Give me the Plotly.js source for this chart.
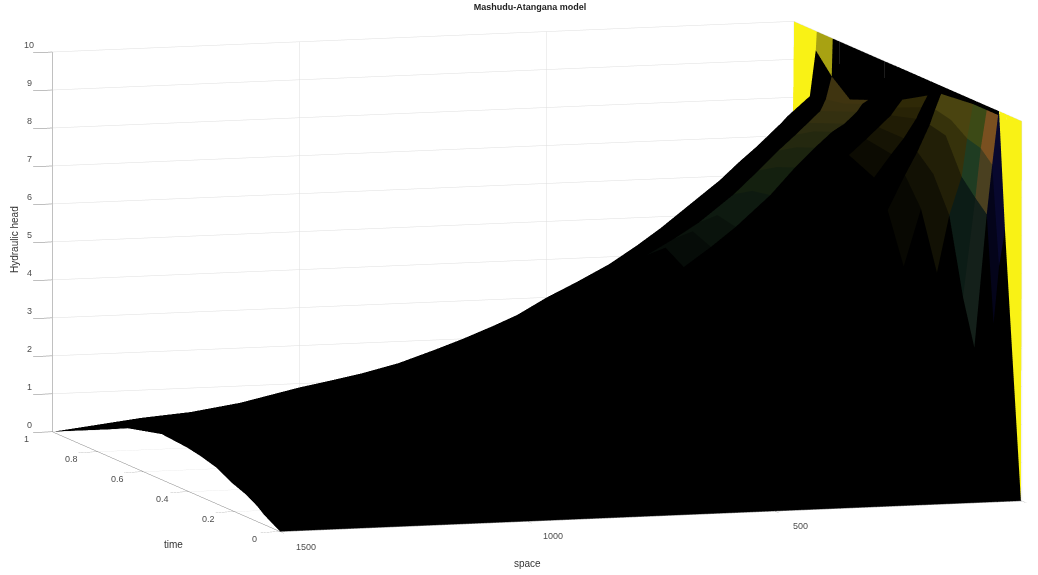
<!DOCTYPE html>
<html><head><meta charset="utf-8">
<script src="https://cdn.plot.ly/plotly-3.0.1.min.js"></script>
<style>html,body{margin:0;padding:0;background:#fff}#c{width:1038px;height:575px}</style></head>
<body><div id="c"></div>
<script>
var space=[0,2,14,25,50,75,110,150,200,270,320,375,440,500,560,610,670,725,800,875,940,1000,1120,1220,1320,1500];
var time=[0,.07,.1,.15,.21,.28,.35,.41,.52,.67,.75,.83,.9,1];
var head=[
[10,0,0,0,0,0,0,0,0,0,0,0,0,0,0,0,0,0,0,0,0,0,0,0,0,0],
[10,6.95,6.0,4.5,1.6,.9,.6,.5,.45,.4,.38,.35,.33,.32,.3,.3,.28,.27,.26,.26,.25,.25,.25,.25,.25,.25],
[10,9.9,8.6,7.3,3.8,2.0,1.2,1.0,.95,.9,.85,.8,.75,.7,.65,.6,.57,.55,.52,.5,.47,.45,.42,.4,.4,.4],
[10,9.9,8.9,7.6,5.0,3.2,2.0,1.6,1.45,1.3,1.25,1.2,1.15,1.1,1.05,1.0,.95,.9,.85,.8,.75,.7,.65,.6,.6,.58],
[10,9.9,9.0,8.0,7.0,5.5,4.0,2.8,2.2,2.0,1.85,1.7,1.6,1.5,1.45,1.4,1.35,1.3,1.22,1.15,1.07,1.0,.9,.8,.75,.72],
[10,9.85,9.3,8.9,7.9,7.0,5.5,4.2,3.5,3.0,2.7,2.4,2.2,2.0,1.9,1.8,1.7,1.6,1.5,1.4,1.35,1.3,1.2,1.1,1.0,.95],
[10,9.8,9.4,9.0,8.3,7.7,6.8,5.8,4.8,4.0,3.5,3.1,2.8,2.5,2.35,2.2,2.05,1.9,1.8,1.7,1.6,1.5,1.4,1.25,1.15,1.07],
[10,9.6,9.3,9.0,8.5,8.1,7.5,6.8,5.7,4.8,4.2,3.7,3.3,2.9,2.7,2.5,2.35,2.2,2.05,1.9,1.8,1.7,1.55,1.4,1.25,1.14],
[10,9.2,9.0,8.8,8.5,8.2,7.8,7.3,6.4,5.6,5.0,4.4,3.9,3.4,3.1,2.8,2.6,2.4,2.25,2.1,1.97,1.85,1.65,1.5,1.35,1.2],
[10,8.8,8.7,8.5,8.2,8.0,7.6,7.1,6.4,5.6,5.1,4.6,4.1,3.6,3.3,3.0,2.75,2.5,2.3,2.1,1.95,1.8,1.55,1.35,1.2,.96],
[10,8.6,8.5,8.3,8.0,7.8,7.4,6.9,6.3,5.7,5.3,4.9,4.3,3.8,3.4,3.0,2.7,2.4,2.15,1.9,1.7,1.5,1.2,1.0,.9,.72],
[10,9.0,8.4,8.1,7.8,7.5,7.1,6.6,6.0,5.3,4.9,4.5,4.0,3.5,3.15,2.8,2.5,2.2,1.97,1.75,1.55,1.35,1.05,.85,.7,.49],
[10,9.5,8.3,8.0,7.6,7.3,6.8,6.3,5.7,5.0,4.6,4.2,3.75,3.3,2.95,2.6,2.3,2.0,1.75,1.5,1.3,1.15,.85,.62,.45,.29],
[10,7.6,7.5,7.35,7.05,6.75,6.37,5.9,5.4,4.7,4.25,3.8,3.37,3.0,2.57,2.3,2.0,1.75,1.43,1.2,1.04,.9,.56,.37,.27,0]
];
// colour letters, two per grid cell (one per triangle), time row by space column; rows are padded with black
var palette={K:"#000000",Y:"#f9f215",N:"#08082e",D:"#04041a",
 a:"#7a5020",b:"#4a4020",c:"#14201a",
 e:"#3c4a16",f:"#1f3c22",g:"#0c1c16",
 i:"#4a4410",j:"#36320b",l:"#221f07",m:"#121104",n:"#080802",
 p:"#2f2907",q:"#282306",r:"#201c05",s:"#161404",t:"#0c0b02",
 v:"#3f3410",w:"#3a3210",x:"#343010",y:"#2c2c10",z:"#24280f",A:"#1c240f",B:"#14200f",G:"#0e1a10",H:"#0a130c",I:"#060c08",
 F:"#a8a212"};
var cellCodes=[
"YY",
"YN NN DD",
"KK aa bb cc",
"KK ee ff gg",
"KK ii jj ll mm",
"KK ii jj ll mm nn",
"",
"KK pp qq rr ss tt",
"",
"KK vv ww xx yy zz AA BB GG HH II",
"KK vv ww xx yy zz AA BB GG HH II",
"FF KK",
"YY YK"
];
var spaceTicks=[500,1000,1500];
var timeTicks=[0,.2,.4,.6,.8,1];
var headTicks=[0,1,2,3,4,5,6,7,8,9,10];

var X=[],Y=[],Z=[],I=[],J=[],K=[],C=[];
var ns=space.length,nt=time.length;
for(var r=0;r<nt;r++)for(var q=0;q<ns;q++){X.push(space[q]);Y.push(time[r]);Z.push(head[r][q]);}
for(var r=0;r<nt-1;r++){
  var codes=cellCodes[r].replace(/ /g,"");
  for(var q=0;q<ns-1;q++){
    var a=r*ns+q,b=(r+1)*ns+q,c=(r+1)*ns+q+1,d=r*ns+q+1;
    I.push(a);J.push(b);K.push(d);C.push(palette[codes[2*q]||"K"]);
    I.push(b);J.push(c);K.push(d);C.push(palette[codes[2*q+1]||"K"]);
  }
}
var tickFont={family:"Liberation Sans, Arial, sans-serif",size:9,color:"#4d4d4d"};
var titleFont={family:"Liberation Sans, Arial, sans-serif",size:10,color:"#333333"};
function ax(vals,range,len){return {
  title:{text:""},range:range,tickmode:"array",tickvals:vals,showticklabels:false,
  showgrid:true,gridcolor:"#dedede",gridwidth:1,zeroline:false,showline:true,linecolor:"#808080",linewidth:1,
  ticks:"outside",ticklen:len,tickcolor:"#808080",tickwidth:1,showbackground:false,showspikes:false};}
function tickNote(px,py,pz,dx,dy,label){return {x:px,y:py,z:pz,text:String(label),showarrow:false,xshift:dx,yshift:-dy,font:tickFont,xanchor:"center",yanchor:"middle"};}
var sceneNotes=[];
spaceTicks.forEach(function(v){sceneNotes.push(tickNote(v,0,0,26,15,v));});
timeTicks.forEach(function(v){sceneNotes.push(tickNote(1500,v,0,-26,7,v));});
headTicks.forEach(function(v){sceneNotes.push(tickNote(1500,1,v,-23,-7,v));});
var eyeDist=6;
var center={x:-.0616,y:.0135,z:-.038};
function note(t,px,py,rot){return {text:t,xref:"paper",yref:"paper",x:px/1038,y:1-py/575,xanchor:"center",yanchor:"middle",showarrow:false,textangle:rot||0,font:titleFont};}
Plotly.newPlot("c",[{type:"mesh3d",x:X,y:Y,z:Z,i:I,j:J,k:K,facecolor:C,flatshading:true,hoverinfo:"skip",
  lighting:{ambient:1,diffuse:0,specular:0,roughness:1,fresnel:0},showscale:false}],
 {width:1038,height:575,margin:{l:0,r:0,t:0,b:0},paper_bgcolor:"#fff",showlegend:false,
  title:{text:"<b>Mashudu-Atangana model</b>",x:530/1038,xanchor:"center",y:1-7/575,yanchor:"middle",font:{family:"Liberation Sans, Arial, sans-serif",size:9,color:"#222"}},
  annotations:[note("space",527,563),note("time",173,544),note("Hydraulic head",14,240,-90)],
  scene:{domain:{x:[0,1],y:[0,1]},aspectmode:"manual",aspectratio:{x:2.699,y:2.699,z:1.333},
   camera:{projection:{type:"orthographic"},up:{x:0,y:0,z:1},center:center,eye:{x:-.291*eyeDist+center.x,y:-.947*eyeDist+center.y,z:.1346*eyeDist+center.z}},
   annotations:sceneNotes,
   xaxis:ax([0,500,1000,1500],[1500,0],20),
   yaxis:ax(timeTicks,[0,1],14),
   zaxis:ax(headTicks,[0,10],14)}
 },{displayModeBar:false});
</script></body></html>
